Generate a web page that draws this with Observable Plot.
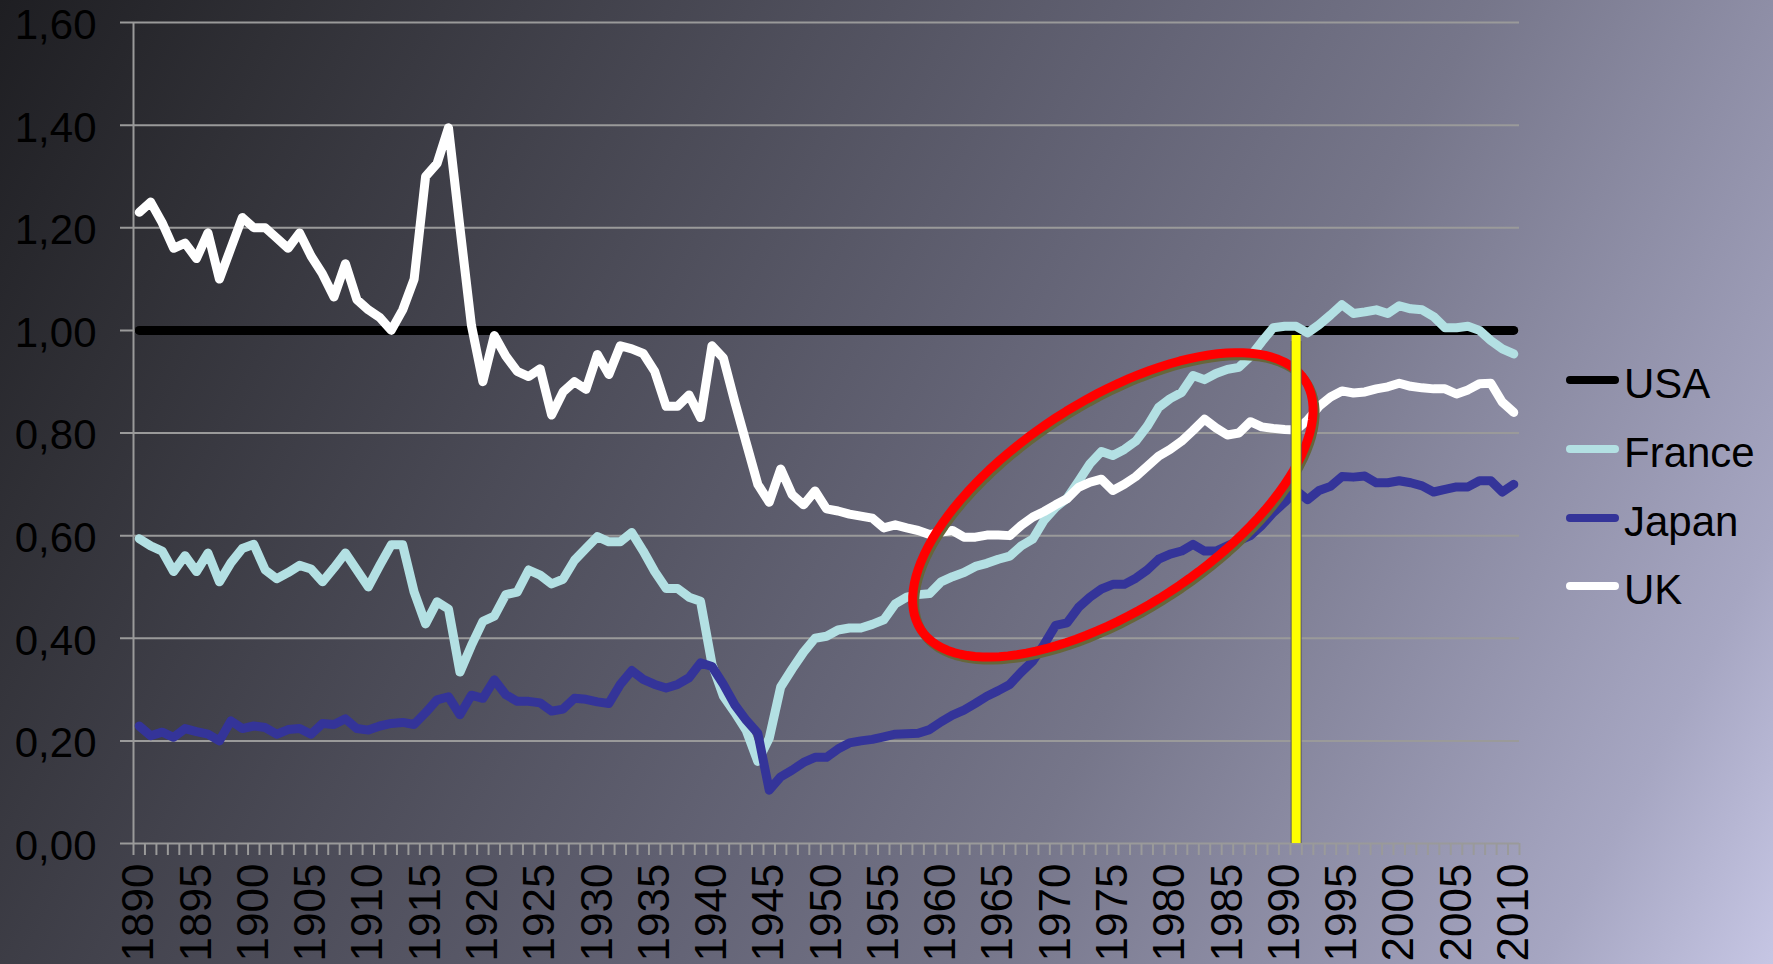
<!DOCTYPE html>
<html>
<head>
<meta charset="utf-8">
<script src="https://cdn.jsdelivr.net/npm/d3@7"></script>
<script src="https://cdn.jsdelivr.net/npm/@observablehq/plot@0.6"></script>
<style>
html, body { margin: 0; padding: 0; width: 1773px; height: 964px; overflow: hidden; }
body {
  position: relative;
  background: linear-gradient(118deg, #1e1e22 0%, #303036 13%, #4b4b57 33%, #646476 52%, #76768a 65%, #a6a6c2 90%, #c6c6e4 100%);
  font-family: "Liberation Sans", Arial, sans-serif;
}
#chart { position: absolute; left: 0; top: 0; }
#legend { position: absolute; left: 1562px; top: 0; }
.row { position: absolute; left: 0; display: flex; align-items: center; height: 50px; }
.row span { font-size: 42px; line-height: 1; color: #000; margin-left: 2px; position: relative; top: 4px; }
</style>
</head>
<body>
<div id="chart"></div>
<div id="legend"></div>
<script>
// ---- data ----
const years = d3.range(1890, 2011);
const labelYears = [1890,1895,1900,1905,1910,1915,1920,1925,1930,1935,1940,1945,1950,1955,1960,1965,1970,1975,1980,1985,1990,1995,2000,2005,2010];
const yTicks = [0, 0.2, 0.4, 0.6, 0.8, 1.0, 1.2, 1.4, 1.6];

const usa = [
  1,1,1,1,1,1,1,1,1,1,
  1,1,1,1,1,1,1,1,1,1,
  1,1,1,1,1,1,1,1,1,1,
  1,1,1,1,1,1,1,1,1,1,
  1,1,1,1,1,1,1,1,1,1,
  1,1,1,1,1,1,1,1,1,1,
  1,1,1,1,1,1,1,1,1,1,
  1,1,1,1,1,1,1,1,1,1,
  1,1,1,1,1,1,1,1,1,1,
  1,1,1,1,1,1,1,1,1,1,
  1,1,1,1,1,1,1,1,1,1,
  1,1,1,1,1,1,1,1,1,1,
  1
];
const france = [
  0.594,0.58,0.57,0.53,0.561,0.53,0.566,0.51,0.547,0.575,
  0.583,0.533,0.516,0.528,0.542,0.535,0.51,0.537,0.566,0.533,
  0.50,0.542,0.582,0.582,0.49,0.428,0.471,0.457,0.334,0.386,
  0.433,0.443,0.485,0.49,0.533,0.523,0.506,0.515,0.552,0.575,
  0.598,0.588,0.588,0.606,0.57,0.53,0.497,0.497,0.48,0.472,
  0.35,0.287,0.255,0.22,0.16,0.205,0.305,0.34,0.373,0.40,
  0.404,0.416,0.42,0.42,0.427,0.436,0.467,0.48,0.485,0.487,
  0.51,0.52,0.528,0.54,0.546,0.554,0.56,0.58,0.593,0.63,
  0.655,0.673,0.706,0.74,0.764,0.756,0.768,0.784,0.813,0.85,
  0.867,0.879,0.912,0.904,0.916,0.924,0.928,0.949,0.978,1.005,
  1.008,1.008,0.995,1.011,1.03,1.05,1.033,1.036,1.04,1.033,
  1.048,1.042,1.04,1.027,1.005,1.005,1.008,1.00,0.98,0.964,
  0.954
];
const japan = [
  0.229,0.21,0.217,0.207,0.224,0.218,0.213,0.20,0.239,0.224,
  0.229,0.226,0.213,0.222,0.224,0.213,0.234,0.232,0.243,0.224,
  0.221,0.229,0.234,0.236,0.232,0.255,0.28,0.286,0.251,0.289,
  0.283,0.319,0.29,0.277,0.277,0.274,0.258,0.262,0.283,0.281,
  0.276,0.273,0.31,0.337,0.32,0.31,0.303,0.31,0.323,0.352,
  0.345,0.31,0.27,0.24,0.215,0.104,0.13,0.143,0.158,0.168,
  0.168,0.184,0.196,0.20,0.203,0.208,0.213,0.214,0.215,0.222,
  0.237,0.25,0.26,0.273,0.287,0.298,0.31,0.334,0.355,0.388,
  0.425,0.43,0.46,0.48,0.496,0.505,0.505,0.517,0.533,0.554,
  0.564,0.57,0.583,0.57,0.57,0.58,0.59,0.60,0.62,0.645,
  0.665,0.688,0.67,0.688,0.696,0.715,0.714,0.716,0.703,0.703,
  0.707,0.703,0.697,0.685,0.69,0.695,0.695,0.707,0.707,0.685,
  0.70
];
const uk = [
  1.23,1.25,1.21,1.16,1.17,1.14,1.19,1.10,1.16,1.22,
  1.20,1.20,1.18,1.16,1.19,1.145,1.11,1.065,1.13,1.06,
  1.04,1.025,1.00,1.04,1.10,1.30,1.325,1.395,1.20,1.01,
  0.90,0.99,0.95,0.92,0.91,0.925,0.835,0.88,0.90,0.885,
  0.953,0.914,0.97,0.964,0.955,0.92,0.852,0.852,0.874,0.83,
  0.97,0.946,0.86,0.78,0.70,0.665,0.73,0.68,0.66,0.687,
  0.652,0.648,0.642,0.638,0.634,0.615,0.621,0.615,0.61,0.602,
  0.607,0.61,0.597,0.597,0.601,0.601,0.60,0.62,0.636,0.647,
  0.66,0.672,0.694,0.704,0.71,0.688,0.70,0.715,0.735,0.755,
  0.768,0.784,0.805,0.827,0.81,0.796,0.80,0.822,0.812,0.809,
  0.807,0.806,0.825,0.852,0.87,0.882,0.878,0.88,0.886,0.89,
  0.897,0.891,0.888,0.886,0.886,0.876,0.884,0.896,0.897,0.86,
  0.84
];

const seriesNames = ["USA", "France", "Japan", "UK"];
const seriesColors = ["#000000", "#b3e0e3", "#343499", "#ffffff"];
const seriesValues = [usa, france, japan, uk];

// highlighted year (yellow bar) and annotation ellipse (centre in data units)
const markerYear = 1991;
const markerTop = 0.99;
const ellipseCenter = {year: 1975.0, value: 0.66};

// ---- layout ----
const W = 1773, H = 964, mL = 133, mR = 254, mT = 22, mB = 121;
const xDomain = [1889.5, 2010.5];
const yDomain = [0, 1.6];
const gridColor = "#9a9a9a";
const tickBounds = d3.range(xDomain[0], xDomain[1] + 0.5, 1);

const pxPerYear = (W - mL - mR) / (xDomain[1] - xDomain[0]);
const pxPerUnit = (H - mT - mB) / (yDomain[1] - yDomain[0]);
const ellA = 229, ellB = 104, ellTheta = 33 * Math.PI / 180;
const ellipsePts = d3.range(0, 360, 3).map(deg => {
  const t = deg * Math.PI / 180;
  const px = ellA * Math.cos(t), py = ellB * Math.sin(t);
  const X = px * Math.cos(ellTheta) - py * Math.sin(ellTheta);
  const Y = px * Math.sin(ellTheta) + py * Math.cos(ellTheta);
  return {year: ellipseCenter.year + X / pxPerYear, value: ellipseCenter.value + Y / pxPerUnit};
});

const fmt = d => d3.format(".2f")(d).replace(".", ",");

const lineMarks = seriesValues.map((vals, k) =>
  Plot.line(years.map((year, i) => ({year, value: vals[i]})), {
    x: "year", y: "value", stroke: seriesColors[k], strokeWidth: 9,
    strokeLinecap: "round", strokeLinejoin: "round"
  })
);

const chart = Plot.plot({
  width: W, height: H,
  marginLeft: mL, marginRight: mR, marginTop: mT, marginBottom: mB,
  style: {background: "transparent", fontFamily: "Liberation Sans, Arial, sans-serif", color: "#000"},
  x: {domain: xDomain, axis: null},
  y: {domain: yDomain, axis: null},
  marks: [
    Plot.ruleY(yTicks, {y: d => d, stroke: gridColor, strokeWidth: 2, insetLeft: -13}),
    Plot.ruleX([xDomain[0]], {x: d => d, y1: yDomain[0], y2: yDomain[1], stroke: gridColor, strokeWidth: 2}),
    Plot.ruleX(tickBounds, {x: d => d, y1: 0, y2: 0, insetBottom: -12, stroke: gridColor, strokeWidth: 2}),
    Plot.text(yTicks, {x: xDomain[0], y: d => d, text: fmt, textAnchor: "end", dx: -37, dy: 3, fontSize: 42, fill: "#000"}),
    Plot.text(labelYears, {x: d => d, y: 0, text: d => String(d), rotate: -90, textAnchor: "end", lineAnchor: "middle", dy: 20, fontSize: 44, fill: "#000"}),
    ...lineMarks,
    Plot.line(ellipsePts, {x: "year", y: "value", stroke: "#66663a", strokeWidth: 9, curve: "linear-closed", dx: 2, dy: 3}),
    Plot.line(ellipsePts, {x: "year", y: "value", stroke: "#ff0000", strokeWidth: 9, curve: "linear-closed"}),
    Plot.ruleX([markerYear], {x: d => d, y1: 0, y2: markerTop, insetBottom: -6, stroke: "#5a5a66", strokeWidth: 11}),
    Plot.ruleX([markerYear], {x: d => d, y1: 0, y2: markerTop, stroke: "#ffff00", strokeWidth: 9})
  ]
});
document.getElementById("chart").appendChild(chart);

// ---- legend ----
const rowCenters = [380, 449, 518, 586];
const legend = document.getElementById("legend");
seriesNames.forEach((name, k) => {
  const row = document.createElement("div");
  row.className = "row";
  row.style.top = (rowCenters[k] - 25) + "px";
  row.innerHTML = `<svg width="60" height="50"><line x1="8" y1="25" x2="53" y2="25" stroke="${seriesColors[k]}" stroke-width="8" stroke-linecap="round"/></svg><span>${name}</span>`;
  legend.appendChild(row);
});
</script>
</body>
</html>
